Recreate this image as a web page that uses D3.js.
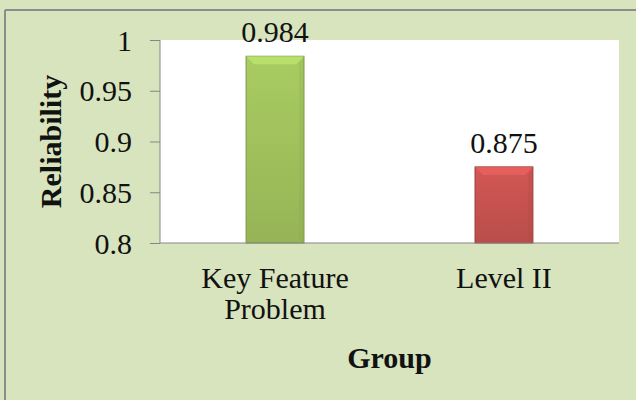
<!DOCTYPE html>
<html>
<head>
<meta charset="utf-8">
<script src="https://cdn.jsdelivr.net/npm/d3@7"></script>
<style>
body { margin: 0; background: #d7e4bd; }
svg { display: block; }
</style>
</head>
<body>
<svg id="chart" width="636" height="400"></svg>
<script>
var groups = ["Key Feature Problem", "Level II"];
var groupLines = [["Key Feature", "Problem"], ["Level II"]];
var reliability = [0.984, 0.875];
var yTicks = [0.8, 0.85, 0.9, 0.95, 1];
var barColors = ["#9bbb59", "#c0504d"];

var svg = d3.select("#chart");
var plotLeft = 160, plotRight = 619, plotTop = 40, plotBottom = 243;
var font = "'Liberation Serif', 'Times New Roman', serif";
var fs = 30;

svg.append("rect").attr("x", 0).attr("y", 0).attr("width", 636).attr("height", 400).attr("fill", "#d7e4bd");
// frame (only top and left edges visible in the crop)
svg.append("line").attr("x1", 5).attr("x2", 636).attr("y1", 10).attr("y2", 10).attr("stroke", "#8c8c8c").attr("stroke-width", 2);
svg.append("line").attr("x1", 5).attr("x2", 5).attr("y1", 10).attr("y2", 400).attr("stroke", "#8c8c8c").attr("stroke-width", 2);

svg.append("rect").attr("x", plotLeft).attr("y", plotTop).attr("width", plotRight - plotLeft).attr("height", plotBottom - plotTop).attr("fill", "#ffffff");

var x = d3.scaleBand().domain(groups).range([plotLeft, plotRight]).paddingInner(0.747).paddingOuter(0.376);
var y = d3.scaleLinear().domain([0.8, 1]).range([plotBottom, plotTop]);

var defs = svg.append("defs");
barColors.forEach(function (c, i) {
	var g = defs.append("linearGradient").attr("id", "grad" + i).attr("x1", 0).attr("x2", 0).attr("y1", 0).attr("y2", 1);
	g.append("stop").attr("offset", "0%").attr("stop-color", d3.color(c).brighter(0.25));
	g.append("stop").attr("offset", "100%").attr("stop-color", d3.color(c).darker(0.1));
});

var bars = svg.append("g").selectAll("g").data(groups).join("g");
bars.append("rect")
	.attr("x", function (d) { return x(d); })
	.attr("y", function (d, i) { return y(reliability[i]); })
	.attr("width", x.bandwidth())
	.attr("height", function (d, i) { return y(0.8) - y(reliability[i]); })
	.attr("fill", function (d, i) { return "url(#grad" + i + ")"; })
	.attr("stroke", function (d, i) { return d3.color(barColors[i]).darker(0.6); })
	.attr("stroke-width", 1);
// bevel highlight at the top of each bar
bars.append("path")
	.attr("d", function (d, i) {
		var x0 = x(d), x1 = x(d) + x.bandwidth(), t = y(reliability[i]), b = 8;
		return "M" + x0 + "," + t + "L" + x1 + "," + t + "L" + (x1 - b) + "," + (t + b) + "L" + (x0 + b) + "," + (t + b) + "Z";
	})
	.attr("fill", function (d, i) { return d3.color(barColors[i]).brighter(0.6); })
	.attr("opacity", 0.7);
bars.append("path")
	.attr("d", function (d, i) {
		var x1 = x(d) + x.bandwidth(), t = y(reliability[i]), b = 5;
		return "M" + x1 + "," + t + "L" + x1 + "," + y(0.8) + "L" + (x1 - b) + "," + y(0.8) + "L" + (x1 - b) + "," + (t + 8) + "Z";
	})
	.attr("fill", function (d, i) { return d3.color(barColors[i]).darker(0.3); })
	.attr("opacity", 0.25);

bars.append("text")
	.attr("x", function (d) { return x(d) + x.bandwidth() / 2; })
	.attr("y", function (d, i) { return y(reliability[i]) - 14; })
	.attr("text-anchor", "middle")
	.attr("font-family", font).attr("font-size", fs).attr("fill", "#111")
	.text(function (d, i) { return reliability[i]; });

// y axis
var yAxis = svg.append("g").attr("transform", "translate(" + plotLeft + ",0)")
	.call(d3.axisLeft(y).tickValues(yTicks).tickSize(10).tickPadding(18).tickFormat(function (d) { return String(+d.toFixed(2)); }));
yAxis.select(".domain").attr("stroke", "#868686").attr("d", "M0," + plotTop + "V" + plotBottom);
yAxis.selectAll(".tick line").attr("stroke", "#868686");
yAxis.selectAll(".tick text").attr("font-family", font).attr("font-size", fs).attr("fill", "#111").attr("dy", "0.34em");

// x axis line
svg.append("line").attr("x1", plotLeft).attr("x2", plotRight).attr("y1", plotBottom).attr("y2", plotBottom).attr("stroke", "#868686");

// category labels, one text per line
var labelG = svg.append("g").selectAll("g").data(groups).join("g");
labelG.selectAll("text").data(function (d, i) { return groupLines[i].map(function (l) { return { g: d, line: l }; }); }).join("text")
	.attr("x", function (d) { return x(d.g) + x.bandwidth() / 2; })
	.attr("y", function (d, j) { return 288 + j * 31; })
	.attr("text-anchor", "middle")
	.attr("font-family", font).attr("font-size", fs).attr("fill", "#111")
	.text(function (d) { return d.line; });

svg.append("text").attr("x", (plotLeft + plotRight) / 2).attr("y", 368).attr("text-anchor", "middle")
	.attr("font-family", font).attr("font-size", fs).attr("font-weight", "bold").attr("fill", "#111").text("Group");
svg.append("text").attr("transform", "translate(61," + ((plotTop + plotBottom) / 2) + ") rotate(-90)").attr("text-anchor", "middle")
	.attr("font-family", font).attr("font-size", fs).attr("font-weight", "bold").attr("fill", "#111").text("Reliability");
</script>
</body>
</html>
